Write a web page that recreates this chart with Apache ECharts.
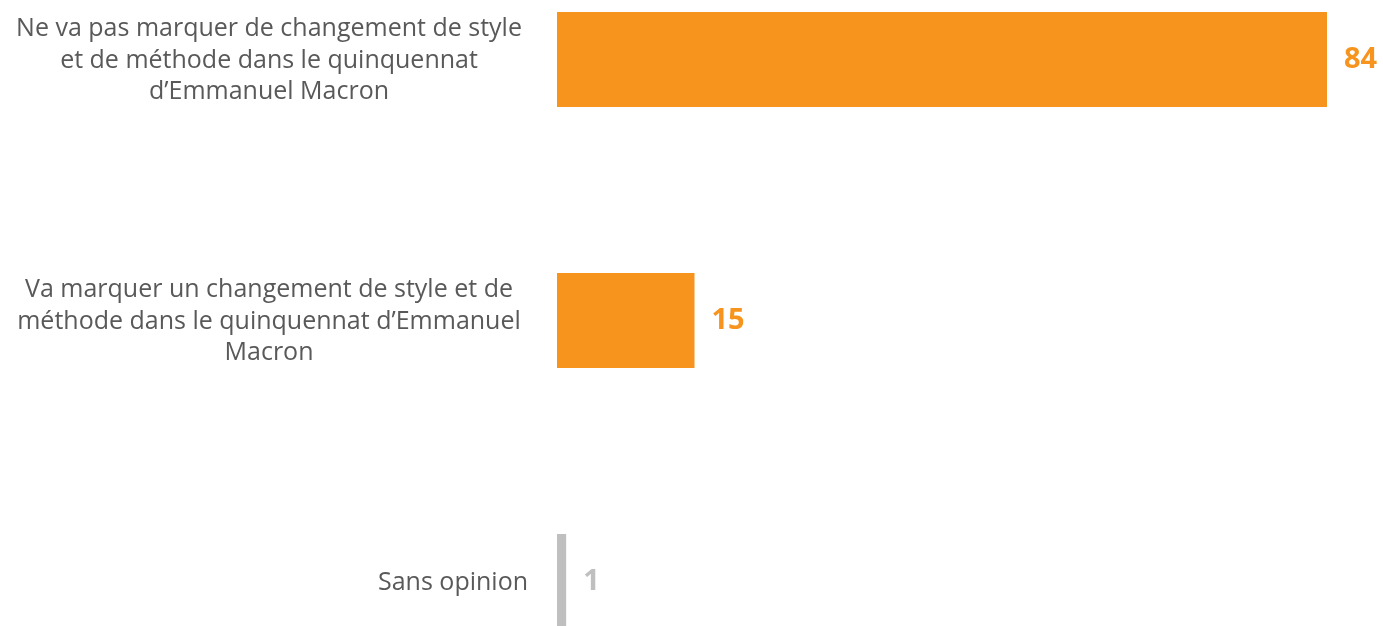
<!DOCTYPE html>
<html>
<head>
<meta charset="utf-8">
<script src="https://cdn.jsdelivr.net/npm/echarts@6/dist/echarts.min.js"></script>
<style>
  html, body { margin: 0; padding: 0; background: #fff; overflow: hidden; }
  /* le graphique d'origine est rogné en haut et en bas */
  #chart { width: 1383px; height: 783px; margin-top: -71px; }
</style>
</head>
<body>
<div id="chart"></div>
<script>
// libellés des réponses (coupés comme dans l'original)
const categories = [
  "Ne va pas marquer de changement de style\net de méthode dans le quinquennat\nd’Emmanuel Macron",
  "Va marquer un changement de style et de\nméthode dans le quinquennat d’Emmanuel\nMacron",
  "Sans opinion"
];
const values = [84, 15, 1];
const barColors = ["#F7941D", "#F7941D", "#BFBFBF"];

const chart = echarts.init(document.getElementById("chart"));

chart.setOption({
  animation: false,
  grid: {
    left: 557,
    right: 56,
    top: 0,
    bottom: 0,
    containLabel: false
  },
  xAxis: {
    type: "value",
    min: 0,
    max: "dataMax",
    show: false
  },
  yAxis: {
    type: "category",
    data: categories,
    inverse: true,
    axisLine: { show: false },
    axisTick: { show: false },
    axisLabel: {
      margin: 29,
      align: "right",
      // lignes centrées dans un bloc aligné à droite
      formatter: (txt) => (txt.indexOf("\n") >= 0 ? "{c|" + txt + "}" : "{r|" + txt + "}"),
      rich: {
        c: {
          width: 518,
          align: "center",
          color: "#595959",
          fontFamily: "Open Sans",
          fontSize: 25,
          lineHeight: 31.5,
          padding: [2, 0, 0, 0]
        },
        r: {
          width: 518,
          align: "right",
          color: "#595959",
          fontFamily: "Open Sans",
          fontSize: 25,
          lineHeight: 31.5,
          padding: [2, 0, 0, 0]
        }
      }
    }
  },
  series: [
    {
      type: "bar",
      barWidth: 95,
      data: values.map((v, i) => ({
        value: v,
        itemStyle: { color: barColors[i] },
        label: { color: barColors[i] }
      })),
      label: {
        show: true,
        position: "right",
        distance: 17,
        fontFamily: "Open Sans",
        fontWeight: "bold",
        fontSize: 29
      }
    }
  ]
});
</script>
</body>
</html>
